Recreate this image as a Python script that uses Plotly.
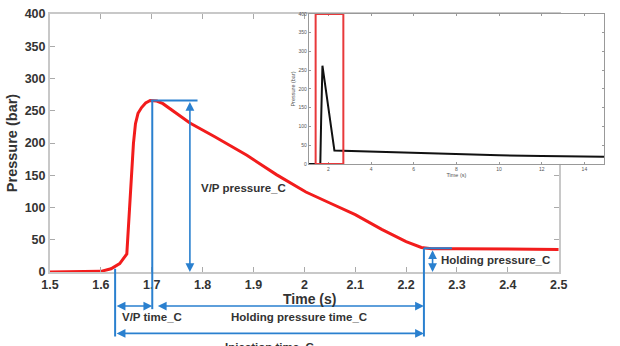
import plotly.graph_objects as go

# ---------------- data ----------------
# main curve (zoomed cycle), time in s, pressure in bar
time_main = [1.50, 1.56, 1.60, 1.62, 1.637, 1.651, 1.656, 1.661, 1.664, 1.668, 1.673, 1.680,
             1.688, 1.697, 1.710, 1.722, 1.751, 1.775, 1.823, 1.887, 1.945, 2.003, 2.05,
             2.10, 2.152, 2.20, 2.23, 2.25, 2.30, 2.40, 2.50]
pressure_main = [0, 0, 1, 5, 13, 28, 90, 149, 199, 230, 246, 255,
                 262, 266, 265, 261, 245, 231, 210, 181, 151, 124, 107,
                 89, 66, 47, 38, 36, 36, 35.5, 35]

# inset curve (full cycle)
time_full = [1.08, 1.62, 1.66, 1.72, 2.28, 4, 6, 8, 10, 12, 14.92]
pressure_full = [0, 0, 120, 262, 36, 33, 29, 26, 23, 21, 19]

x_tickvals = [1.5, 1.6, 1.7, 1.8, 1.9, 2.0, 2.1, 2.2, 2.3, 2.4, 2.5]
x_ticktext = ["1.5", "1.6", "1.7", "1.8", "1.9", "2", "2.1", "2.2", "2.3", "2.4", "2.5"]
y_tickvals = [0, 50, 100, 150, 200, 250, 300, 350, 400]
inset_xticks = [2, 4, 6, 8, 10, 12, 14]

# characteristic values
inj_start = 1.628
vp_time = 1.701
hold_end = 2.235
vp_pressure = 266
hold_pressure = 37
vp_arrow_x = 1.775
hold_arrow_x = 2.252
zoom_box = [1.4, 2.7]

# ---------------- styling ----------------
RED = "#f21c1c"
BLUE = "#2a80cf"
TXT = "#333333"
FONT = "Liberation Sans, Arial, sans-serif"
row1_y = -0.132   # paper y of first arrow row
row2_y = -0.238   # paper y of second arrow row
line_bottom = -0.25

fig = go.Figure()
fig.add_trace(go.Scatter(x=time_main, y=pressure_main, mode="lines",
                         line=dict(color=RED, width=3), xaxis="x", yaxis="y",
                         showlegend=False, hoverinfo="skip"))
fig.add_trace(go.Scatter(x=time_full, y=pressure_full, mode="lines",
                         line=dict(color="#111111", width=2), xaxis="x2", yaxis="y2",
                         showlegend=False, hoverinfo="skip"))

shapes = []
def seg(x0, y0, x1, y1, yref="y", color=BLUE, width=2):
    shapes.append(dict(type="line", xref="x", yref=yref, x0=x0, y0=y0, x1=x1, y1=y1,
                       line=dict(color=color, width=width)))

# horizontal at V/P pressure
seg(vp_time - 0.003, vp_pressure, 1.79, vp_pressure)
# vertical at V/P switchover (extends below axis)
seg(vp_time, vp_pressure / 400, vp_time, row1_y - 0.012, yref="paper")
# vertical at injection start
seg(inj_start, 5 / 400, inj_start, line_bottom, yref="paper")
# vertical at end of holding
seg(hold_end, hold_pressure / 400, hold_end, line_bottom, yref="paper")
# short horizontal at holding pressure
seg(hold_end, hold_pressure, 2.29, hold_pressure)

# zoom box in inset
shapes.append(dict(type="rect", xref="x2", yref="y2", x0=zoom_box[0], x1=zoom_box[1],
                   y0=0, y1=400, line=dict(color="#e8393b", width=2)))

annotations = []
def harrow(x0, x1, y):
    annotations.append(dict(x=x1, y=y, xref="x", yref="paper", ax=x0, ay=0,
                            axref="x", ayref="pixel", text="", showarrow=True,
                            arrowhead=2, startarrowhead=2, arrowside="end+start",
                            arrowsize=1.1, startarrowsize=1.1, arrowwidth=1.6,
                            arrowcolor=BLUE, standoff=0, startstandoff=0))
def varrow(x, y0, y1):
    annotations.append(dict(x=x, y=y1, xref="x", yref="y", ax=0, ay=y0,
                            axref="pixel", ayref="y", text="", showarrow=True,
                            arrowhead=2, startarrowhead=2, arrowside="end+start",
                            arrowsize=1.1, startarrowsize=1.1, arrowwidth=1.6,
                            arrowcolor=BLUE, standoff=0, startstandoff=0))

varrow(vp_arrow_x, vp_pressure, 0)
varrow(hold_arrow_x, hold_pressure - 1, 0)
harrow(inj_start, vp_time, row1_y)
harrow(1.709, hold_end, row1_y)
harrow(inj_start, hold_end, row2_y)

def label(text, x, y, yref="y", xanchor="left", size=11.5):
    annotations.append(dict(text=text, x=x, y=y, xref="x", yref=yref, showarrow=False,
                            xanchor=xanchor, yanchor="middle", borderpad=0,
                            font=dict(family=FONT, size=size, color=TXT, weight="bold")))

label("V/P pressure_C", 1.794, 130)
label("Holding pressure_C", 2.266, 18)
label("V/P time_C", 1.639, -0.174, yref="paper")
label("Holding pressure time_C", 1.99, -0.174, yref="paper", xanchor="center")
label("Injection time_C", (inj_start + hold_end) / 2, -0.290, yref="paper", xanchor="center")
# main x-axis title
label("Time (s)", 2.01, -0.104, yref="paper", xanchor="center", size=14)

axis_font = dict(family=FONT, size=12.5, color=TXT, weight="bold")
inset_font = dict(family=FONT, size=5, color="#555555")

fig.update_layout(
    width=620, height=346,
    margin=dict(l=50, r=7, t=7, b=74),
    paper_bgcolor="white", plot_bgcolor="white",
    showlegend=False,
    shapes=shapes, annotations=annotations,
    xaxis=dict(domain=[0, 517 / 563], range=[1.5, 2.5], tickvals=x_tickvals, ticktext=x_ticktext,
               showline=True, linecolor="#c8c8c8", linewidth=2, mirror="allticks",
               ticks="inside", ticklen=5, tickcolor="#aaaaaa", showgrid=False, zeroline=False,
               tickfont=axis_font),
    yaxis=dict(domain=[0, 1], range=[0, 400], tickvals=y_tickvals,
               showline=True, linecolor="#c8c8c8", linewidth=2, mirror="allticks",
               ticks="inside", ticklen=5, tickcolor="#aaaaaa", showgrid=False, zeroline=False,
               tickfont=axis_font,
               title=dict(text="Pressure (bar)", font=dict(family=FONT, size=14.5, color=TXT, weight="bold"),
                          standoff=4)),
    xaxis2=dict(domain=[263 / 563, 1], range=[1.08, 14.92], anchor="y2", tickvals=inset_xticks,
                showline=True, linecolor="#999999", linewidth=1, mirror="allticks",
                ticks="inside", ticklen=2, tickcolor="#999999", showgrid=False, zeroline=False,
                tickfont=inset_font,
                title=dict(text="Time (s)", font=dict(family=FONT, size=5.5, color="#555555"), standoff=1)),
    yaxis2=dict(domain=[(272 - 161) / 265, 1], range=[0, 400], anchor="x2", tickvals=y_tickvals,
                showline=True, linecolor="#999999", linewidth=1, mirror="allticks",
                ticks="inside", ticklen=2, tickcolor="#999999", showgrid=False, zeroline=False,
                tickfont=inset_font,
                title=dict(text="Pressure (bar)", font=dict(family=FONT, size=5.5, color="#555555"), standoff=2)),
)

fig.write_html("out.html")
